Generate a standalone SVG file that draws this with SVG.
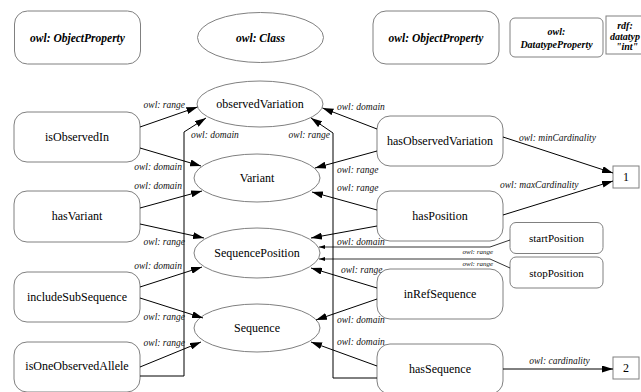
<svg xmlns="http://www.w3.org/2000/svg" width="641" height="392" viewBox="0 0 641 392">
<style>
.box{fill:#fff;stroke:#808080;stroke-width:1}
.lbl{font-family:"Liberation Serif","Times New Roman",serif;font-size:12px;fill:#000;text-anchor:middle}
.leg{font-family:"Liberation Serif","Times New Roman",serif;font-size:11.5px;font-weight:bold;font-style:italic;fill:#000;text-anchor:middle}
.legs{font-family:"Liberation Serif","Times New Roman",serif;font-size:10px;font-weight:bold;font-style:italic;fill:#000;text-anchor:middle}
.el{font-family:"Liberation Serif","Times New Roman",serif;font-size:9.5px;font-style:italic;fill:#111}
.et{font-family:"Liberation Serif","Times New Roman",serif;font-size:7px;font-style:italic;fill:#111;text-anchor:end}
.ln{fill:none;stroke:#000;stroke-width:1;marker-end:url(#ah)}
.lns{fill:none;stroke:#000;stroke-width:0.8;marker-end:url(#ahs)}
</style>
<defs>
<marker id="ah" viewBox="0 0 11 7" refX="11" refY="3.5" markerWidth="11" markerHeight="7" markerUnits="userSpaceOnUse" orient="auto"><path d="M0,0L11,3.5L0,7z" fill="#000"/></marker>
<marker id="ahs" viewBox="0 0 6 4" refX="6" refY="2" markerWidth="6" markerHeight="4" markerUnits="userSpaceOnUse" orient="auto"><path d="M0,0L6,2L0,4z" fill="#000"/></marker>
</defs>

<!-- legend -->
<g id="legend-objprop1"><rect class="box" x="14.5" y="11" width="126" height="53" rx="13"/><text class="leg" x="77.5" y="41.5">owl: ObjectProperty</text></g>
<g id="legend-class"><ellipse class="box" cx="260.5" cy="37.5" rx="63" ry="25"/><text class="leg" x="260.5" y="41.5">owl: Class</text></g>
<g id="legend-objprop2"><rect class="box" x="373" y="11" width="126" height="53" rx="13"/><text class="leg" x="436" y="41.5">owl: ObjectProperty</text></g>
<g id="legend-dataprop"><rect class="box" x="510" y="18" width="93" height="39" rx="5"/><text class="legs" x="556.5" y="35">owl:</text><text class="legs" x="556.5" y="47.5">DatatypeProperty</text></g>
<g id="legend-datatype"><rect class="box" x="606" y="16" width="50" height="38"/><text class="legs" x="625" y="29">rdf:</text><text class="legs" x="610" y="39.5" style="text-anchor:start">datatyp</text><text class="legs" x="627" y="50">"int"</text></g>

<!-- classes -->
<g id="observedVariation"><ellipse class="box" cx="260" cy="104" rx="63" ry="23"/><text class="lbl" x="260" y="108">observedVariation</text></g>
<g id="Variant"><ellipse class="box" cx="257" cy="178" rx="63" ry="24"/><text class="lbl" x="257" y="182">Variant</text></g>
<g id="SequencePosition"><ellipse class="box" cx="257" cy="253" rx="63" ry="25"/><text class="lbl" x="257" y="257">SequencePosition</text></g>
<g id="Sequence"><ellipse class="box" cx="257" cy="328" rx="63" ry="24"/><text class="lbl" x="257" y="332">Sequence</text></g>

<!-- left properties -->
<g id="isObservedIn"><rect class="box" x="14" y="112" width="126" height="50" rx="13"/><text class="lbl" x="77" y="141">isObservedIn</text></g>
<g id="hasVariant"><rect class="box" x="14" y="191" width="126" height="51" rx="13"/><text class="lbl" x="77" y="220">hasVariant</text></g>
<g id="includeSubSequence"><rect class="box" x="14" y="272" width="126" height="50" rx="13"/><text class="lbl" x="77" y="301">includeSubSequence</text></g>
<g id="isOneObservedAllele"><rect class="box" x="14" y="342" width="126" height="50" rx="13"/><text class="lbl" x="77" y="370">isOneObservedAllele</text></g>

<!-- right properties -->
<g id="hasObservedVariation"><rect class="box" x="377" y="116" width="126" height="50" rx="13"/><text class="lbl" x="440" y="145">hasObservedVariation</text></g>
<g id="hasPosition"><rect class="box" x="377" y="191" width="126" height="50" rx="13"/><text class="lbl" x="440" y="220">hasPosition</text></g>
<g id="inRefSequence"><rect class="box" x="377" y="269" width="126" height="50" rx="13"/><text class="lbl" x="440" y="298">inRefSequence</text></g>
<g id="hasSequence"><rect class="box" x="377" y="344" width="126" height="50" rx="13"/><text class="lbl" x="440" y="373">hasSequence</text></g>
<g id="startPosition"><rect class="box" x="510" y="222.5" width="93" height="31" rx="6"/><text class="lbl" x="556.5" y="242" style="font-size:11px">startPosition</text></g>
<g id="stopPosition"><rect class="box" x="510" y="257" width="93" height="31" rx="6"/><text class="lbl" x="556.5" y="276.5" style="font-size:11px">stopPosition</text></g>
<g id="one"><rect class="box" x="613" y="166" width="26" height="22"/><text class="lbl" x="626" y="181">1</text></g>
<g id="two"><rect class="box" x="613" y="357" width="26" height="22"/><text class="lbl" x="626" y="372">2</text></g>

<!-- connectors -->
<g id="connectors">
<path class="ln" d="M140,127L197.5,107"/>
<path class="ln" d="M140,148L201,166"/>
<path class="ln" d="M140,208L202,191"/>
<path class="ln" d="M140,224L204,238"/>
<path class="ln" d="M140,287L202,267"/>
<path class="ln" d="M140,298L203,318"/>
<path class="ln" d="M140,367L201,342"/>
<path class="ln" d="M140,376H184V132L206,118"/>
<path class="ln" d="M377,129L322.5,108"/>
<path class="ln" d="M377,151L315,168"/>
<path class="ln" d="M377,378H333V133L311,118"/>
<path class="ln" d="M377,210L312,192"/>
<path class="ln" d="M377,226L311,238"/>
<path class="lns" d="M510,240L490,247H319"/>
<path class="lns" d="M510,268L490,259H319"/>
<path class="ln" d="M377,288L311,268"/>
<path class="ln" d="M377,299L316,320"/>
<path class="ln" d="M377,366L311,342"/>
<path class="ln" d="M503,137L613,173"/>
<path class="ln" d="M503,215L613,181"/>
<path class="ln" d="M503,369L613,369"/>

<text class="el" x="185" y="108" text-anchor="end">owl: range</text>
<text class="el" x="182" y="170" text-anchor="end">owl: domain</text>
<text class="el" x="182" y="189" text-anchor="end">owl: domain</text>
<text class="el" x="185" y="245" text-anchor="end">owl: range</text>
<text class="el" x="182" y="269" text-anchor="end">owl: domain</text>
<text class="el" x="185" y="320" text-anchor="end">owl: range</text>
<text class="el" x="185" y="346" text-anchor="end">owl: range</text>
<text class="el" x="191" y="138">owl: domain</text>
<text class="el" x="337" y="110">owl: domain</text>
<text class="el" x="330" y="138" text-anchor="end">owl: range</text>
<text class="el" x="337" y="173">owl: range</text>
<text class="el" x="337" y="191">owl: range</text>
<text class="el" x="337" y="245">owl: domain</text>
<text class="et" x="493" y="254">owl: range</text>
<text class="et" x="493" y="265.5">owl: range</text>
<text class="el" x="341" y="273">owl: range</text>
<text class="el" x="337" y="323">owl: domain</text>
<text class="el" x="337" y="344.5">owl: domain</text>
<text class="el" x="519" y="141">owl: minCardinality</text>
<text class="el" x="500" y="188">owl: maxCardinality</text>
<text class="el" x="559.5" y="363.5" text-anchor="middle">owl: cardinality</text>
</g>
</svg>
